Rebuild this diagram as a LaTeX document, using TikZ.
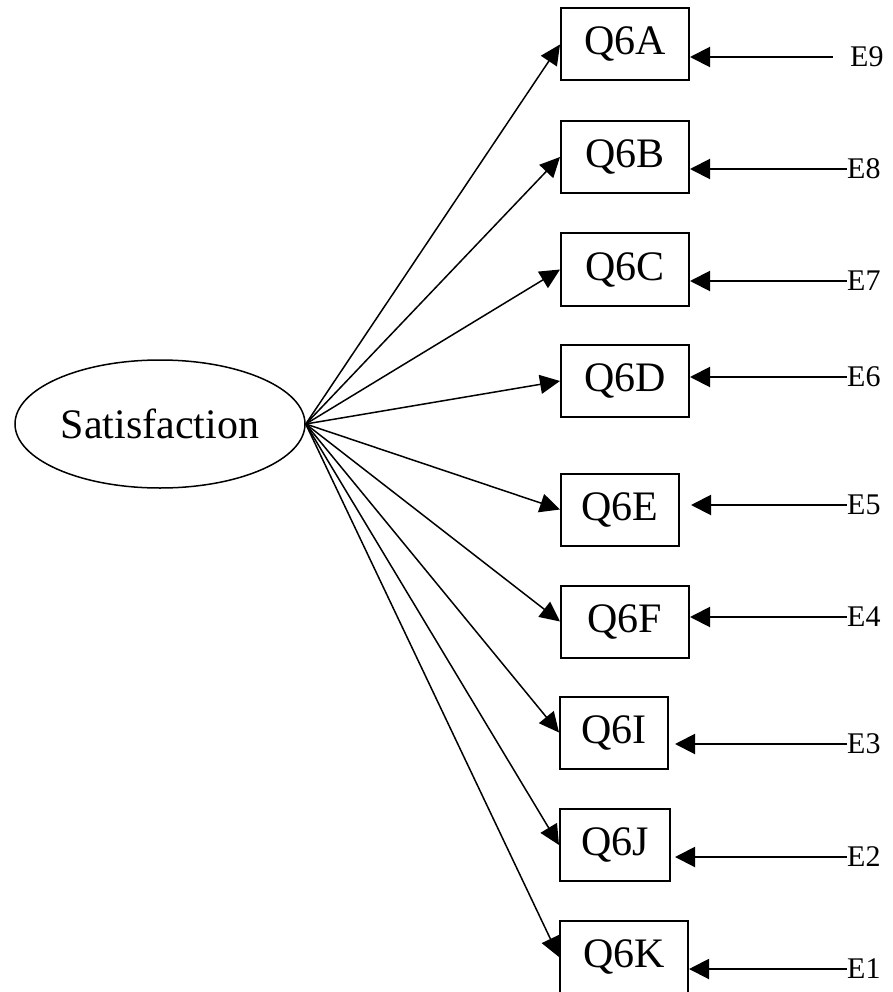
\documentclass[tikz,border=0pt]{standalone}
\usepackage{fontspec}
\setmainfont{Liberation Serif}
\usetikzlibrary{shapes.geometric,arrows.meta}

\begin{document}
\begin{tikzpicture}[x=1pt,y=-1pt,
  latent/.style={draw,ellipse,line width=1.5pt,minimum width=290pt,minimum height=128pt,inner sep=0pt,font=\fontsize{42}{50}\selectfont},
  item/.style={draw,line width=2pt,anchor=west,minimum width=128pt,minimum height=72pt,inner sep=0pt,font=\fontsize{42}{50}\selectfont},
  err/.style={anchor=west,inner sep=0pt,font=\fontsize{30}{36}\selectfont},
  load/.style={-{Triangle[length=20pt,width=19pt]},line width=1.5pt},
  res/.style={-{Triangle[length=20pt,width=20pt]},line width=2pt}
]
  \useasboundingbox (0,0) rectangle (892,992);

  % Latent factor
  \node[latent] (sat) at (160,424) {Satisfaction};

  % Indicators
  \node[item] (q6a) at (560,44.5) {Q6A};
  \node[item] (q6b) at (560,157) {Q6B};
  \node[item] (q6c) at (560,269.5) {Q6C};
  \node[item] (q6d) at (560,381) {Q6D};
  \node[item,minimum width=118pt] (q6e) at (560,509.5) {Q6E};
  \node[item] (q6f) at (560,621.5) {Q6F};
  \node[item,minimum width=108pt] (q6i) at (559,732.5) {Q6I};
  \node[item,minimum width=110pt] (q6j) at (559,845) {Q6J};
  \node[item] (q6k) at (559,957) {Q6K};

  % Error terms
  \node[err] (e9) at (850,57) {E9};
  \node[err] (e8) at (847,169) {E8};
  \node[err] (e7) at (847,281) {E7};
  \node[err] (e6) at (847,377) {E6};
  \node[err] (e5) at (847,505) {E5};
  \node[err] (e4) at (847,617) {E4};
  \node[err] (e3) at (847,744) {E3};
  \node[err] (e2) at (847,857) {E2};
  \node[err] (e1) at (847,969) {E1};

  % Loadings
  \foreach \q in {q6a,q6b,q6c,q6d,q6e,q6f,q6i,q6j,q6k}
    \draw[load] (sat.east) -- (\q.west);

  % Residuals
  \draw[res,shorten <=17pt] (e9.west) -- (e9.west -| q6a.east);
  \draw[res] (e8.west) -- (e8.west -| q6b.east);
  \draw[res] (e7.west) -- (e7.west -| q6c.east);
  \draw[res] (e6.west) -- (e6.west -| q6d.east);
  \draw[res,shorten >=11pt] (e5.west) -- (e5.west -| q6e.east);
  \draw[res] (e4.west) -- (e4.west -| q6f.east);
  \draw[res,shorten >=6pt] (e3.west) -- (e3.west -| q6i.east);
  \draw[res,shorten >=4pt] (e2.west) -- (e2.west -| q6j.east);
  \draw[res] (e1.west) -- (e1.west -| q6k.east);
\end{tikzpicture}
\end{document}
